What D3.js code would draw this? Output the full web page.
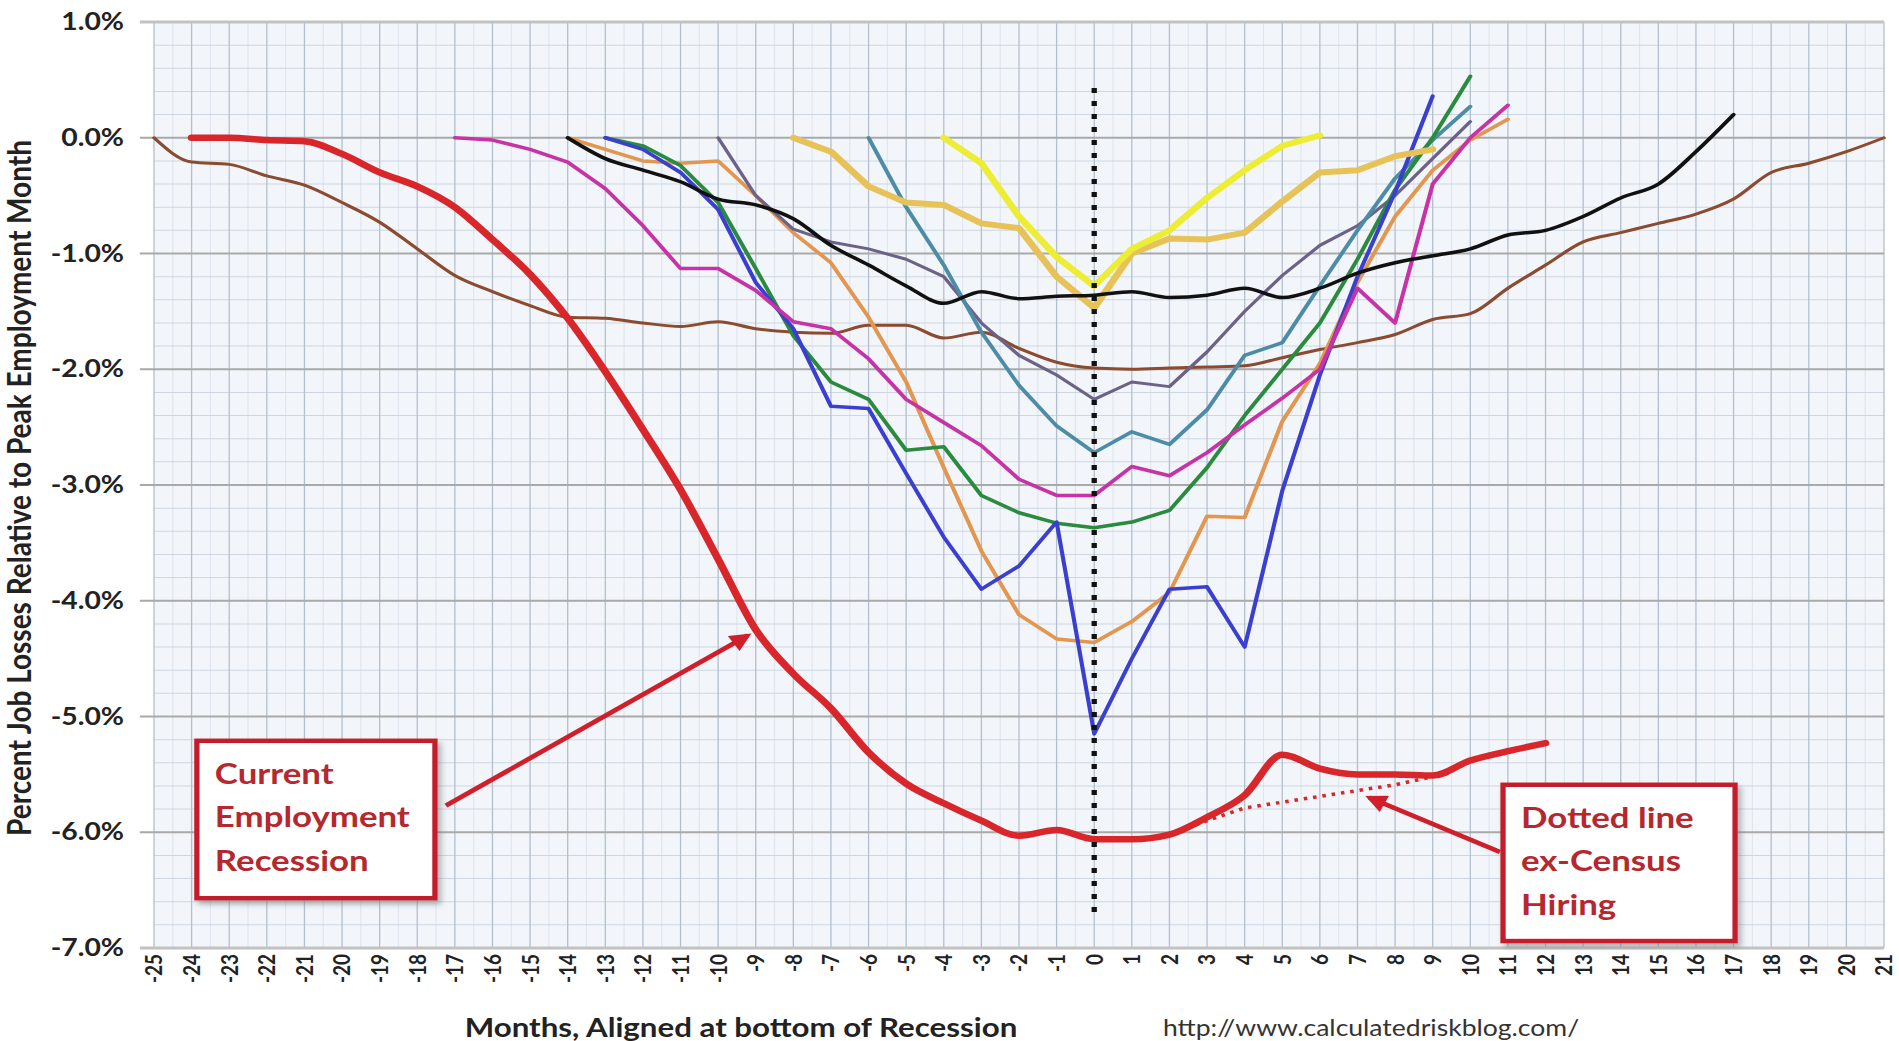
<!DOCTYPE html>
<html>
<head>
<meta charset="utf-8">
<script src="https://cdn.jsdelivr.net/npm/d3@7"></script>
<style>
  html, body { margin: 0; padding: 0; background: #fff; }
  svg { display: block; }
</style>
</head>
<body>
<div id="chart"></div>
<script>
// Months, aligned at the bottom of each recession (x categories)
const months = [-25, -24, -23, -22, -21, -20, -19, -18, -17, -16, -15, -14, -13, -12, -11, -10,
  -9, -8, -7, -6, -5, -4, -3, -2, -1, 0, 1, 2, 3, 4, 5, 6, 7, 8, 9, 10, 11, 12, 13, 14, 15,
  16, 17, 18, 19, 20, 21];
const yTicks = [1, 0, -1, -2, -3, -4, -5, -6, -7];

// Percent job losses relative to peak employment month, one array per recession.
// Each array starts at the month given in its *Start constant.
const currentStart = -24;
const current = [0.0, 0.0, -0.02, -0.03, -0.14, -0.3, -0.42, -0.6, -0.88, -1.18, -1.56, -2.02,
  -2.52, -3.04, -3.64, -4.25, -4.63, -4.93, -5.31, -5.58, -5.75, -5.9, -6.03, -5.98, -6.06,
  -6.06, -6.02, -5.87, -5.68, -5.33, -5.45, -5.5, -5.5, -5.51, -5.38, -5.3, -5.23];
const exCensusStart = 2;
const exCensus = [-6.02, -5.9, -5.79, -5.74, -5.69, -5.64, -5.59, -5.52];

const rec2001Start = -25;
const rec2001 = [0.0, -0.21, -0.23, -0.33, -0.41, -0.56, -0.73, -0.96, -1.19, -1.33, -1.45, -1.55,
  -1.56, -1.6, -1.63, -1.59, -1.65, -1.68, -1.69, -1.62, -1.62, -1.73, -1.68, -1.82, -1.94,
  -1.99, -2.0, -1.99, -1.98, -1.97, -1.9, -1.83, -1.77, -1.7, -1.57, -1.52, -1.3, -1.1, -0.9,
  -0.82, -0.74, -0.66, -0.53, -0.3, -0.22, -0.12, 0.0];
const rec1990Start = -14;
const rec1990 = [0, -0.18, -0.28, -0.38, -0.53, -0.58, -0.7, -0.93, -1.1, -1.28, -1.43, -1.33,
  -1.39, -1.37, -1.36, -1.33, -1.38, -1.36, -1.3, -1.38, -1.3, -1.17, -1.08, -1.02, -0.96,
  -0.84, -0.8, -0.68, -0.52, -0.4, -0.12, 0.2];
const rec1981Start = -17;
const rec1981 = [0, -0.02, -0.1, -0.21, -0.44, -0.76, -1.13, -1.13, -1.32, -1.59, -1.65, -1.91,
  -2.26, -2.46, -2.66, -2.95, -3.09, -3.09, -2.84, -2.92, -2.72, -2.48, -2.25, -2.0, -1.3,
  -1.6, -0.4, 0.0, 0.28];
const rec1953Start = -13;
const rec1953 = [0, -0.07, -0.24, -0.56, -1.13, -1.71, -2.11, -2.26, -2.7, -2.67, -3.09, -3.24,
  -3.33, -3.37, -3.32, -3.22, -2.85, -2.4, -2.0, -1.6, -1.05, -0.45, 0.0, 0.53];
const rec1948Start = -13;
const rec1948 = [0, -0.1, -0.3, -0.62, -1.25, -1.65, -2.32, -2.34, -2.9, -3.45, -3.9, -3.7,
  -3.32, -5.15, -4.5, -3.9, -3.88, -4.4, -3.05, -2.05, -1.2, -0.47, 0.36];
const rec1957Start = -14;
const rec1957 = [0, -0.1, -0.2, -0.22, -0.2, -0.5, -0.82, -1.08, -1.55, -2.11, -2.85, -3.57,
  -4.12, -4.33, -4.36, -4.18, -3.93, -3.27, -3.28, -2.45, -1.95, -1.25, -0.68, -0.28, -0.02, 0.16];
const rec1960Start = -10;
const rec1960 = [0, -0.5, -0.79, -0.9, -0.96, -1.05, -1.2, -1.6, -1.88, -2.05, -2.26, -2.11,
  -2.15, -1.85, -1.5, -1.19, -0.93, -0.76, -0.5, -0.18, 0.14];
const rec1974Start = -6;
const rec1974 = [0, -0.6, -1.1, -1.68, -2.14, -2.49, -2.72, -2.54, -2.65, -2.35, -1.88, -1.77,
  -1.28, -0.8, -0.35, -0.02, 0.27];
const rec1969Start = -8;
const rec1969 = [0, -0.12, -0.42, -0.56, -0.58, -0.74, -0.78, -1.2, -1.47, -1.0, -0.87, -0.88,
  -0.82, -0.55, -0.3, -0.28, -0.16, -0.1];
const rec1980Start = -4;
const rec1980 = [0, -0.22, -0.68, -1.03, -1.28, -0.96, -0.8, -0.52, -0.28, -0.07, 0.02];

const W = 1899, H = 1041;
const SX = 1.18; // the reference picture is stretched sideways, so draw narrow and stretch

const svg = d3.select("#chart").append("svg")
  .attr("width", W)
  .attr("height", H)
  .attr("viewBox", `0 0 ${W / SX} ${H}`)
  .attr("preserveAspectRatio", "none");

const x = d3.scaleLinear().domain([-25, 21]).range([154 / SX, 1884 / SX]);
const y = d3.scaleLinear().domain([-7, 1]).range([948, 22]);
const xL = x(-25), xR = x(21);

// Plot background
svg.append("rect")
  .attr("x", xL).attr("y", y(1))
  .attr("width", xR - xL).attr("height", y(-7) - y(1))
  .attr("fill", "#f2f6fb");

// Fine grid: half months and 0.2% steps
const grid = svg.append("g");
grid.selectAll(".vhalf")
  .data(months.slice(1).map((m) => m - 0.5))
  .join("line")
  .attr("x1", (d) => x(d)).attr("x2", (d) => x(d))
  .attr("y1", y(1)).attr("y2", y(-7))
  .attr("stroke", "#dfe6ef").attr("stroke-width", 1);

grid.selectAll(".hminor")
  .data(d3.range(-6.8, 1, 0.2).filter((d) => Math.abs(d - Math.round(d)) > 0.01))
  .join("line")
  .attr("x1", xL).attr("x2", xR)
  .attr("y1", (d) => y(d)).attr("y2", (d) => y(d))
  .attr("stroke", "#cdd6e2").attr("stroke-width", 1);

grid.selectAll(".vmonth")
  .data(months)
  .join("line")
  .attr("x1", (d) => x(d)).attr("x2", (d) => x(d))
  .attr("y1", y(1)).attr("y2", y(-7))
  .attr("stroke", "#b3bfce").attr("stroke-width", 1.1);

grid.selectAll(".hmajor")
  .data(yTicks)
  .join("line")
  .attr("x1", xL - 12).attr("x2", xR)
  .attr("y1", (d) => y(d)).attr("y2", (d) => y(d))
  .attr("stroke", (d) => (d === 1 || d === -7 ? "#c2c2c2" : "#a9a9a9"))
  .attr("stroke-width", (d) => (d === 1 || d === -7 ? 3 : 2));

// Y axis labels
const yAxis = svg.append("g")
  .attr("transform", `translate(${xL},0)`)
  .call(d3.axisLeft(y).tickValues(yTicks).tickSize(0)
    .tickPadding(xL - 124 / SX)
    .tickFormat((d) => d.toFixed(1) + "%"));
yAxis.select(".domain").remove();
yAxis.attr("font-family", "Lato, sans-serif").attr("font-size", 24).attr("font-weight", 700);
yAxis.selectAll("text").attr("fill", "#222");

// X axis labels, rotated
const xAxis = svg.append("g")
  .attr("transform", `translate(0,${y(-7)})`)
  .call(d3.axisBottom(x).tickValues(months).tickSize(0).tickFormat((d) => d));
xAxis.select(".domain").remove();
xAxis.attr("font-family", "Lato, sans-serif").attr("font-size", 19).attr("font-weight", 700);
xAxis.selectAll("text")
  .attr("fill", "#222")
  .attr("transform", "rotate(-90)")
  .attr("text-anchor", "end")
  .attr("x", -6)
  .attr("y", 0)
  .attr("dy", "0.35em");

// Axis titles and source
svg.append("text")
  .attr("transform", `translate(${31 / SX},488) rotate(-90)`)
  .attr("text-anchor", "middle")
  .attr("font-family", "Lato, sans-serif")
  .attr("font-size", 28).attr("font-weight", 700).attr("fill", "#222")
  .text("Percent Job Losses Relative to Peak Employment Month");

svg.append("text")
  .attr("x", 741 / SX).attr("y", 1037)
  .attr("text-anchor", "middle")
  .attr("font-family", "Lato, sans-serif")
  .attr("font-size", 26.5).attr("font-weight", 700).attr("fill", "#222")
  .text("Months, Aligned at bottom of Recession");

svg.append("text")
  .attr("x", 1163 / SX).attr("y", 1036)
  .attr("font-family", "Lato, sans-serif")
  .attr("font-size", 22.5).attr("fill", "#333")
  .text("http://www.calculatedriskblog.com/");

// Recession lines
const toPoints = (values, start) => values.map((v, i) => ({ m: start + i, v }));
const line = d3.line().x((d) => x(d.m)).y((d) => y(d.v));
const smooth = d3.line().x((d) => x(d.m)).y((d) => y(d.v)).curve(d3.curveMonotoneX);

const series = [
  { values: rec2001, start: rec2001Start, color: "#8c4a2f", width: 3, gen: smooth },
  { values: rec1957, start: rec1957Start, color: "#e3964f", width: 3.5, gen: line },
  { values: rec1960, start: rec1960Start, color: "#6c6288", width: 3, gen: line },
  { values: rec1974, start: rec1974Start, color: "#4d8ca6", width: 3.5, gen: line },
  { values: rec1953, start: rec1953Start, color: "#2a8a3e", width: 3.5, gen: line },
  { values: rec1948, start: rec1948Start, color: "#3a3fd0", width: 3.5, gen: line },
  { values: rec1981, start: rec1981Start, color: "#c733a6", width: 3.5, gen: line },
  { values: rec1969, start: rec1969Start, color: "#e6c258", width: 6, gen: line },
  { values: rec1980, start: rec1980Start, color: "#eded35", width: 6, gen: line },
  { values: rec1990, start: rec1990Start, color: "#111111", width: 3.5, gen: smooth },
  { values: current, start: currentStart, color: "#d8262b", width: 6.5, gen: smooth },
];

svg.append("g")
  .selectAll("path")
  .data(series)
  .join("path")
  .attr("d", (s) => s.gen(toPoints(s.values, s.start)))
  .attr("fill", "none")
  .attr("stroke", (s) => s.color)
  .attr("stroke-width", (s) => s.width)
  .attr("stroke-linejoin", "round")
  .attr("stroke-linecap", "round");

// ex-Census dotted line
svg.append("path")
  .attr("d", line(toPoints(exCensus, exCensusStart)))
  .attr("fill", "none")
  .attr("stroke", "#d8262b")
  .attr("stroke-width", 3.5)
  .attr("stroke-dasharray", "3,5");

// Dotted marker at the bottom of recession
svg.append("line")
  .attr("x1", x(0)).attr("x2", x(0))
  .attr("y1", y(0.43)).attr("y2", y(-6.7))
  .attr("stroke", "#111")
  .attr("stroke-width", 4.5)
  .attr("stroke-dasharray", "5,8");

// Annotation boxes with arrows
const defs = svg.append("defs");
defs.append("marker")
  .attr("id", "arrow")
  .attr("viewBox", "0 0 10 10")
  .attr("refX", 8).attr("refY", 5)
  .attr("markerWidth", 5).attr("markerHeight", 4)
  .attr("orient", "auto")
  .append("path")
  .attr("d", "M0,0 L10,5 L0,10 z")
  .attr("fill", "#d01f2a");
defs.append("filter")
  .attr("id", "shadow")
  .attr("x", "-10%").attr("y", "-10%").attr("width", "130%").attr("height", "130%")
  .append("feDropShadow")
  .attr("dx", 3).attr("dy", 4).attr("stdDeviation", 2.5)
  .attr("flood-color", "#777").attr("flood-opacity", 0.55);

const notes = [
  { lines: ["Current", "Employment", "Recession"], m0: -23.86, m1: -17.53, v0: -5.21, v1: -6.57,
    from: [-17.24, -5.77], to: [-9.21, -4.3] },
  { lines: ["Dotted line", "ex-Census", "Hiring"], m0: 10.87, m1: 17.04, v0: -5.59, v1: -6.94,
    from: [10.79, -6.17], to: [7.31, -5.7] },
];

notes.forEach((n) => {
  svg.append("line")
    .attr("x1", x(n.from[0])).attr("y1", y(n.from[1]))
    .attr("x2", x(n.to[0])).attr("y2", y(n.to[1]))
    .attr("stroke", "#d01f2a")
    .attr("stroke-width", 4.5)
    .attr("marker-end", "url(#arrow)");

  svg.append("rect")
    .attr("x", x(n.m0)).attr("y", y(n.v0))
    .attr("width", x(n.m1) - x(n.m0)).attr("height", y(n.v1) - y(n.v0))
    .attr("fill", "#fff")
    .attr("stroke", "#c41f2b")
    .attr("stroke-width", 4.5)
    .attr("filter", "url(#shadow)");

  svg.append("g")
    .selectAll("text")
    .data(n.lines)
    .join("text")
    .attr("x", x(n.m0) + 18 / SX)
    .attr("y", (d, i) => y(n.v0) + 43 + i * 43.5)
    .attr("font-family", "Lato, sans-serif")
    .attr("font-size", 29.5).attr("font-weight", 700)
    .attr("fill", "#b5282e")
    .text((d) => d);
});
</script>
</body>
</html>
